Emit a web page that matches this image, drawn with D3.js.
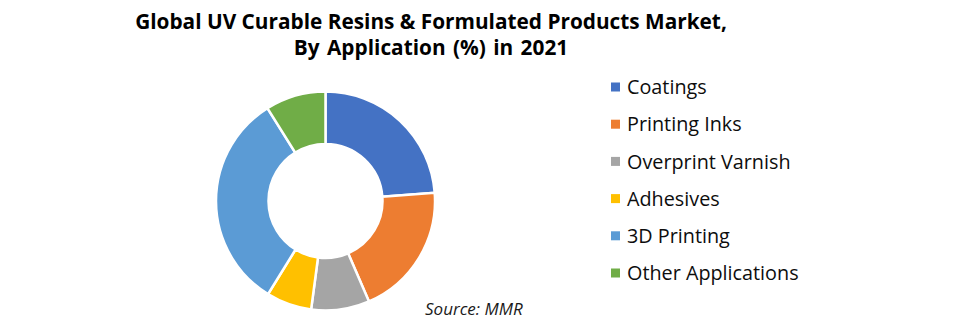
<!DOCTYPE html>
<html>
<head>
<meta charset="utf-8">
<script src="https://cdn.jsdelivr.net/npm/d3@7"></script>
<style>
  html, body { margin: 0; padding: 0; background: #ffffff; }
  svg { display: block; font-family: "Open Sans", "Noto Sans", sans-serif; }
</style>
</head>
<body>
<svg id="chart" width="955" height="324"></svg>
<script>
// Application segments and their market shares (%)
const categories = ["Coatings", "Printing Inks", "Overprint Varnish", "Adhesives", "3D Printing", "Other Applications"];
const shares = [23.8, 19.7, 8.6, 6.7, 32.3, 8.9];
const colors = ["#4472C4", "#ED7D31", "#A5A5A5", "#FFC000", "#5B9BD5", "#70AD47"];
const titleLines = ["Global UV Curable Resins & Formulated Products Market,", "By Application (%) in 2021"];
const sourceText = "Source: MMR";

const svg = d3.select("#chart");

const data = categories.map((c, i) => ({ name: c, value: shares[i], color: colors[i] }));

// Title
svg.append("g")
  .selectAll("text")
  .data(titleLines)
  .join("text")
  .attr("x", 431)
  .attr("y", (d, i) => 29 + i * 26)
  .attr("text-anchor", "middle")
  .attr("font-size", 20.8)
  .attr("font-weight", "bold")
  .attr("word-spacing", (d, i) => i === 1 ? 2 : 0)
  .attr("fill", "#000")
  .text(d => d);

// Donut
const cx = 325.5, cy = 201, outerR = 109.5, innerR = 57;
const pie = d3.pie().value(d => d.value).sort(null);
const arc = d3.arc().innerRadius(innerR).outerRadius(outerR);

svg.append("g")
  .attr("transform", `translate(${cx},${cy})`)
  .selectAll("path")
  .data(pie(data))
  .join("path")
  .attr("d", arc)
  .attr("fill", d => d.data.color)
  .attr("stroke", "#ffffff")
  .attr("stroke-width", 2.5);

// Legend
const legendX = 611, legendY0 = 87, legendStep = 37.2;
const legend = svg.append("g")
  .selectAll("g")
  .data(data)
  .join("g")
  .attr("transform", (d, i) => `translate(${legendX},${legendY0 + i * legendStep})`);

legend.append("rect")
  .attr("x", 0)
  .attr("y", -4.5)
  .attr("width", 9)
  .attr("height", 9)
  .attr("fill", d => d.color);

legend.append("text")
  .attr("x", 16)
  .attr("y", 0)
  .attr("dy", "0.36em")
  .attr("font-size", 19.8)
  .attr("fill", "#0d0d0d")
  .text(d => d.name);

// Source note
svg.append("text")
  .attr("x", 425)
  .attr("y", 315)
  .attr("font-size", 17)
  .attr("font-style", "italic")
  .attr("fill", "#1a1a1a")
  .text(sourceText);
</script>
</body>
</html>
